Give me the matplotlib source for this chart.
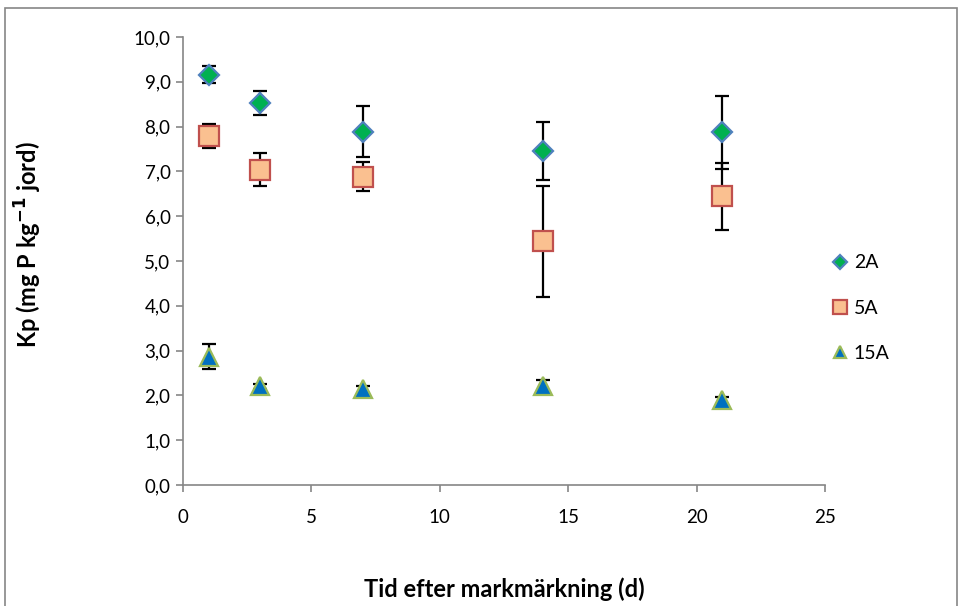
import matplotlib.pyplot as plt

# Data
days = [1, 3, 7, 14, 21]

kp_2a = [9.16, 8.52, 7.89, 7.46, 7.87]
err_2a = [0.19, 0.27, 0.57, 0.65, 0.81]

kp_5a = [7.79, 7.04, 6.88, 5.44, 6.44]
err_5a = [0.26, 0.37, 0.32, 1.24, 0.75]

kp_15a = [2.86, 2.20, 2.14, 2.21, 1.89]
err_15a = [0.28, 0.05, 0.08, 0.13, 0.08]

y_ticks = [0, 1, 2, 3, 4, 5, 6, 7, 8, 9, 10]
y_tick_labels = ["0,0", "1,0", "2,0", "3,0", "4,0", "5,0", "6,0", "7,0", "8,0", "9,0", "10,0"]
x_ticks = [0, 5, 10, 15, 20, 25]

plt.rcParams['font.family'] = ['Lato', 'DejaVu Sans']

fig = plt.figure(figsize=(9.62, 6.06), dpi=100)
W, H = 962, 606
ax = fig.add_axes([183 / W, 1 - 485 / H, (825 - 183) / W, (485 - 37) / H])

# Outer chart border like Excel
border = plt.Rectangle((5 / W, -0.01), (957 - 5) / W, 1 - 8 / H + 0.01,
                       transform=fig.transFigure, fill=False,
                       edgecolor="#868686", linewidth=1.2)
fig.patches.append(border)

series = [
    ("2A", kp_2a, err_2a, "D", 10.5, "#00B050", "#4F81BD"),
    ("5A", kp_5a, err_5a, "s", 14, "#FAC090", "#C0504D"),
    ("15A", kp_15a, err_15a, "^", 12.5, "#0070C0", "#9BBB59"),
]

handles = []
for name, vals, errs, mk, ms, fc, ec in series:
    ax.errorbar(days, vals, yerr=errs, fmt="none", ecolor="black",
                elinewidth=1.6, capsize=5, capthick=1.6, zorder=2)
    h, = ax.plot(days, vals, linestyle="none", marker=mk, markersize=ms,
                 markerfacecolor=fc, markeredgecolor=ec, markeredgewidth=1.6,
                 label=name, zorder=3)
    handles.append(h)

ax.set_xlim(0, 25)
ax.set_ylim(0, 10)
ax.set_xticks(x_ticks)
ax.set_yticks(y_ticks)
ax.set_yticklabels(y_tick_labels)

for side in ["top", "right"]:
    ax.spines[side].set_visible(False)
for side in ["left", "bottom"]:
    ax.spines[side].set_color("#868686")
    ax.spines[side].set_linewidth(1.2)
ax.tick_params(axis="both", direction="out", length=5, width=1.2,
               color="#868686", labelsize=13.5, labelcolor="black")
ax.tick_params(axis="x", pad=12)
ax.tick_params(axis="y", pad=4)

ax.set_xlabel("Tid efter markmärkning (d)", fontsize=17, fontweight="bold")
ax.set_ylabel("Kp (mg P kg$^{\\mathbf{-1}}$ jord)", fontsize=17, fontweight="bold")
ax.xaxis.set_label_coords(0.5, (485 - 577) / 448)
ax.yaxis.set_label_coords((44 - 183) / 642, (485 - 245) / 448)

leg = fig.legend(handles=handles, loc="center left",
                 bbox_to_anchor=(814 / W, 1 - 308 / H), frameon=False,
                 fontsize=14, labelspacing=1.45, handlelength=0.9,
                 handletextpad=0.25, markerscale=0.72)

fig.savefig("out.png", dpi=100)
